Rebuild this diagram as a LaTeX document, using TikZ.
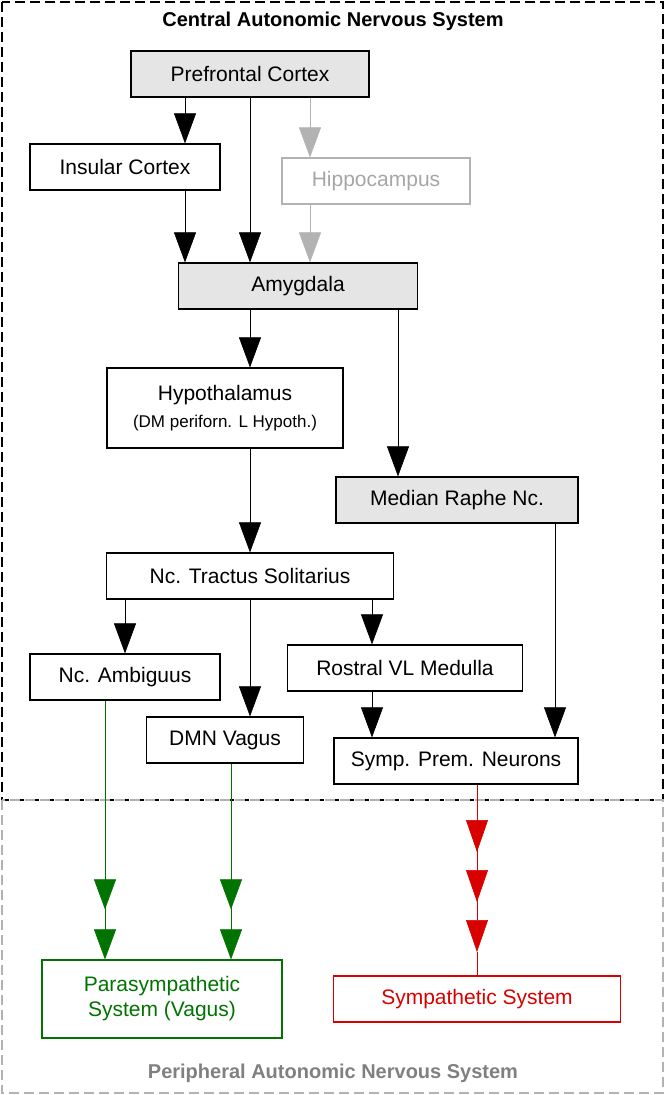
\documentclass[tikz,border=0pt]{standalone}
\usepackage{fontspec}
\setmainfont{Liberation Sans}
\usetikzlibrary{arrows.meta}
\begin{document}
\begin{tikzpicture}[x=1pt,y=-1pt,semithick,
    >={Triangle[length=30pt,width=22pt]}]
  \tikzstyle{box}=[draw,line width=1.2pt,minimum height=46pt,inner xsep=10pt,font=\fontsize{21}{25}\selectfont]
  \tikzstyle{core}=[box,fill=black!10]
  \tikzstyle{faint}=[black!30]
  \tikzstyle{para}=[green!45!black]
  \tikzstyle{symp}=[red!85!black]
  \tikzstyle{twotips}=[-{Triangle[length=30pt,width=22pt,sep=20pt]Triangle[length=30pt,width=22pt]}]
  \tikzstyle{threetips}=[-{Triangle[length=32pt,width=22pt,sep=18pt]Triangle[length=32pt,width=22pt,sep=18pt]Triangle[length=32pt,width=22pt]}]
  \useasboundingbox (0,0) rectangle (665,1095);

  % frames
  \draw[line width=2pt,dash pattern=on 10pt off 5pt] (2,2) rectangle (663,800);
  \draw[faint,line width=1.5pt,dash pattern=on 10pt off 5pt] (2,800) rectangle (663,1093);
  \node (central) at (333,21) {\fontsize{20}{24}\selectfont\bfseries Central Autonomic Nervous System};
  \node[text=black!50] (periph) at (333,1073) {\fontsize{20}{24}\selectfont\bfseries Peripheral Autonomic Nervous System};

  % nodes
  \node[core,minimum width=238pt] (pfc) at (250,74) {Prefrontal Cortex};
  \node[box,minimum width=190pt] (ins) at (125,167) {Insular Cortex};
  \node[box,faint,text=black!35,minimum width=188pt] (hip) at (376,181) {Hippocampus};
  \node[core,minimum width=239pt] (amy) at (298,286) {Amygdala};
  \node[box,minimum width=236pt,minimum height=80pt,align=center] (hyp) at (225,408)
       {Hypothalamus\\[2pt]{\fontsize{17}{20}\selectfont(DM periforn. L Hypoth.)}};
  \node[core,minimum width=242pt] (mrn) at (457,500) {Median Raphe Nc.};
  \node[box,minimum width=287pt] (nts) at (250,576) {Nc. Tractus Solitarius};
  \node[box,minimum width=190pt] (amb) at (125,677) {Nc. Ambiguus};
  \node[box,minimum width=235pt] (rvl) at (405,668) {Rostral VL Medulla};
  \node[box,minimum width=157pt] (dmn) at (225,740) {DMN Vagus};
  \node[box,minimum width=244pt] (spn) at (456,761) {Symp. Prem. Neurons};
  \node[box,para,text=green!45!black,minimum width=240pt,minimum height=78pt,align=center] (psys) at (162,999)
       {Parasympathetic\\System (Vagus)};
  \node[box,symp,text=red!85!black,minimum width=287pt] (ssys) at (477,999) {Sympathetic System};

  % connections
  \draw[->] (185,0 |- pfc.south) -- (185,0 |- ins.north);
  \draw[->] (pfc.south) -- (pfc.south |- amy.north);
  \draw[->,faint] (310,0 |- pfc.south) -- (310,0 |- hip.north);
  \draw[->] (185,0 |- ins.south) -- (185,0 |- amy.north);
  \draw[->,faint] (310,0 |- hip.south) -- (310,0 |- amy.north);
  \draw[->] (250,0 |- amy.south) -- (250,0 |- hyp.north);
  \draw[->] (398,0 |- amy.south) -- (398,0 |- mrn.north);
  \draw[->] (250,0 |- hyp.south) -- (250,0 |- nts.north);
  \draw[->] (555,0 |- mrn.south) -- (555,0 |- spn.north);
  \draw[->] (125,0 |- nts.south) -- (amb.north);
  \draw[->] (250,0 |- nts.south) -- (250,0 |- dmn.north);
  \draw[->] (372,0 |- nts.south) -- (372,0 |- rvl.north);
  \draw[->] (372,0 |- rvl.south) -- (372,0 |- spn.north);
  \draw[para,twotips] (105,0 |- amb.south) -- (105,0 |- psys.north);
  \draw[para,twotips] (231,0 |- dmn.south) -- (231,0 |- psys.north);
  \draw[symp,threetips] (477,0 |- spn.south) coordinate (s0) -- (477,952) coordinate (s1);
  \draw[symp] (s1) -- (ssys.north);
\end{tikzpicture}
\end{document}
